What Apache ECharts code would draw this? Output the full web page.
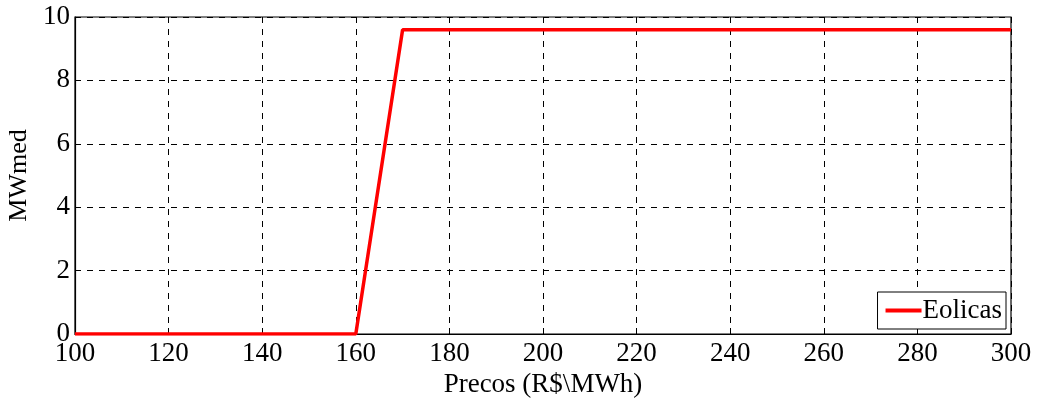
<!DOCTYPE html>
<html><head><meta charset="utf-8">
<script src="https://cdn.jsdelivr.net/npm/echarts@6/dist/echarts.min.js"></script>
<style>html,body{margin:0;padding:0;background:#fff}#c{width:1040px;height:398px}</style>
</head><body><div id="c"></div>
<script>
const prices = [100, 160, 170, 300];
const eolicas = [0, 0, 9.6, 9.6];
const seriesName = 'Eolicas';
const xTitle = 'Precos (R$\\MWh)';
const yTitle = 'MWmed';

const font = 'Liberation Serif';
const chart = echarts.init(document.getElementById('c'));
chart.setOption({
  animation: false,
  grid: {left: 75, right: 29, top: 17, bottom: 64, containLabel: false, outerBoundsMode: 'none',
         show: true, borderColor: '#000', borderWidth: 1.2, backgroundColor: 'transparent'},
  xAxis: {
    type: 'value', min: 100, max: 300, interval: 20,
    name: xTitle, nameLocation: 'middle', nameGap: 34,
    nameTextStyle: {fontFamily: font, fontSize: 27, color: '#000'},
    axisLine: {show: true, lineStyle: {color: '#000', width: 1.2}},
    axisTick: {show: true, inside: true, length: 6, lineStyle: {color: '#000'}},
    axisLabel: {fontFamily: font, fontSize: 27, color: '#000', margin: 6},
    splitLine: {show: true, lineStyle: {color: '#000', type: [6, 6], width: 1}}
  },
  yAxis: {
    type: 'value', min: 0, max: 10, interval: 2,
    name: yTitle, nameLocation: 'middle', nameGap: 35,
    nameTextStyle: {fontFamily: font, fontSize: 26, color: '#000'},
    axisLine: {show: true, lineStyle: {color: '#000', width: 1.2}},
    axisTick: {show: true, inside: true, length: 6, lineStyle: {color: '#000'}},
    axisLabel: {fontFamily: font, fontSize: 27, color: '#000', margin: 5},
    splitLine: {show: true, lineStyle: {color: '#000', type: [6, 6], width: 1}}
  },
  legend: {
    right: 34, bottom: 69, orient: 'vertical',
    backgroundColor: '#fff', borderColor: '#000', borderWidth: 1,
    padding: [5, 4, 5, 8], itemWidth: 36, itemHeight: 4, itemGap: 4,
    icon: 'rect',
    textStyle: {fontFamily: font, fontSize: 27, color: '#000', padding: [0, 0, 0, -4]},
    data: [seriesName]
  },
  series: [{
    name: seriesName, type: 'line', showSymbol: false, symbol: 'none',
    data: prices.map((p, i) => [p, eolicas[i]]),
    lineStyle: {color: '#ff0000', width: 3.5}, itemStyle: {color: '#ff0000'}
  }]
});
</script></body></html>
